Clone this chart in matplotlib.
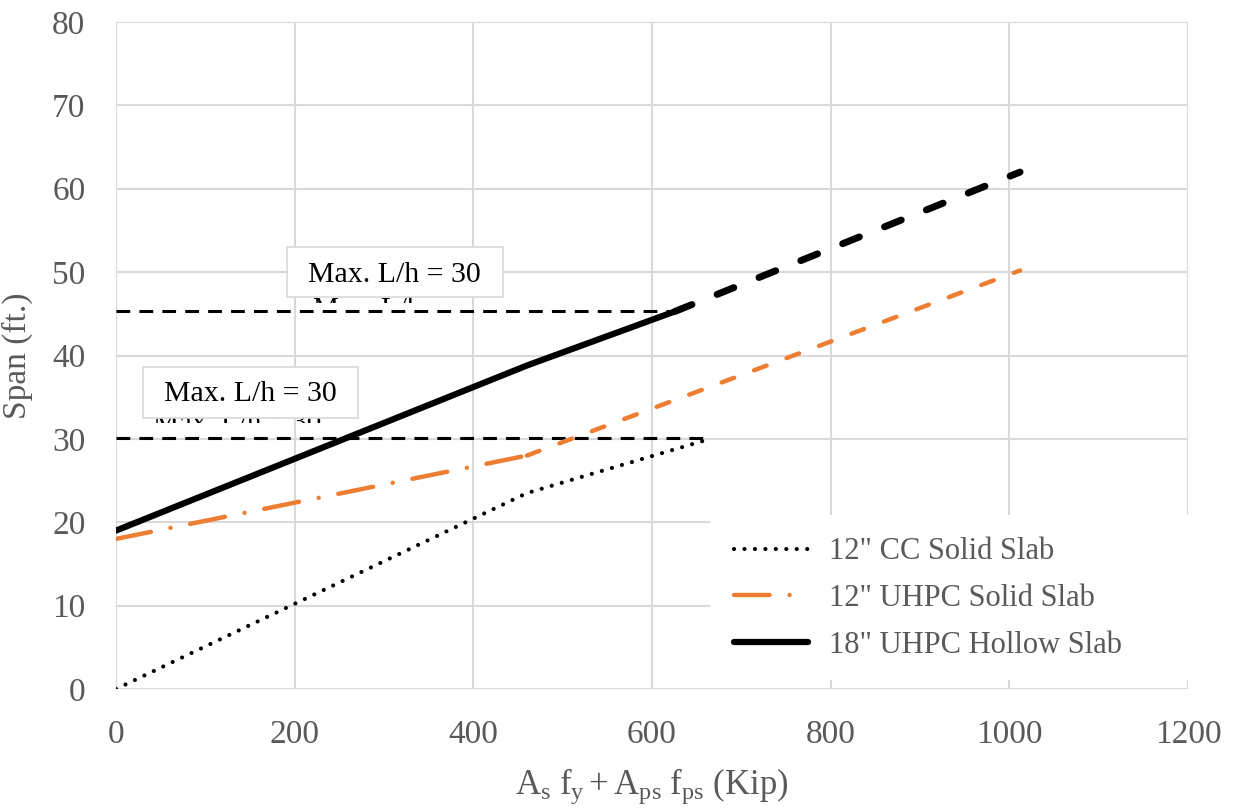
#Libraries
import numpy as np
import matplotlib
matplotlib.use('Agg')
import matplotlib.pyplot as plt
from matplotlib.patches import Rectangle
from matplotlib.transforms import Bbox, TransformedBbox

#Data
cc_x      = [0, 460, 665]
cc_y      = [0, 23.5, 30]
uhpc_x    = [0, 460]
uhpc_y    = [18, 28]
uhpc_ext_x = [460, 1012]
uhpc_ext_y = [28, 50.2]
hol_x     = [0, 460, 626]
hol_y     = [19, 38.8, 45.3]
hol_ext_x = [626, 1012]
hol_ext_y = [45.3, 62]
lim_hol   = 45.3     # Max. L/h = 30 for 18" slab
lim_hol_x = 622
lim_cc    = 30.1     # Max. L/h = 30 for 12" slab
lim_cc_x  = 665
labels = ['12" CC Solid Slab', '12" UHPC Solid Slab', '18" UHPC Hollow Slab']
note   = 'Max. L/h = 30'

#Style
plt.rcParams['font.family'] = ['Liberation Serif', 'DejaVu Serif']
plt.rcParams['mathtext.fontset'] = 'custom'
plt.rcParams['mathtext.rm'] = 'Liberation Serif'
plt.rcParams['mathtext.it'] = 'Liberation Serif:italic'
orange = '#ED7D31'
grey   = '#595959'
gridc  = '#D9D9D9'

fig = plt.figure(figsize=(12.39, 8.08), dpi=100)
ax = fig.add_axes([116/1239, 1-689/808, (1188-116)/1239, (689-22)/808])
ax.set_xlim(0, 1200)
ax.set_ylim(0, 80)
ax.set_xticks(np.arange(0, 1201, 200))
ax.set_yticks(np.arange(0, 81, 10))
ax.grid(True, color=gridc, linewidth=1.5, zorder=0)
ax.set_axisbelow(True)
for s in ax.spines.values():
    s.set_visible(False)
ax.tick_params(length=0, labelsize=24, labelcolor=grey)
ax.tick_params(axis='y', pad=22)
ax.tick_params(axis='x', pad=22)

#Limit lines
ax.plot([0, lim_hol_x], [lim_hol, lim_hol], color='black', lw=2.2,
        linestyle=(0, (4.5, 3)), zorder=2)
ax.plot([0, lim_cc_x], [lim_cc, lim_cc], color='black', lw=2.2,
        linestyle=(0, (4.5, 3)), zorder=2)

#Series
l1, = ax.plot(cc_x, cc_y, color='black', lw=3, linestyle=(0, (0.01, 2.5)),
              dash_capstyle='round', zorder=3)
l2, = ax.plot(uhpc_x, uhpc_y, color=orange, lw=3.2, linestyle=(0, (8, 4.5, 0.01, 4.5)),
              dash_capstyle='round', zorder=3)
ax.plot(uhpc_ext_x, uhpc_ext_y, color=orange, lw=3.2, linestyle=(0, (3, 4.8)),
        dash_capstyle='round', zorder=3)
l3, = ax.plot(hol_x, hol_y, color='black', lw=4.5, solid_capstyle='round', zorder=3)
ax.plot(hol_ext_x, hol_ext_y, color='black', lw=5, linestyle=(0, (2.6, 3.9)),
        dash_capstyle='round', zorder=3)

#Text boxes (with the half hidden label behind)
boxes = [(191, 47.0, 242, 6.0, 312, 49.7, 220, 44.6, 46.3, 'Max. L/h'),
         (30, 32.5, 241, 6.1, 150, 35.4, 41, 30.9, 31.9, note)]
for bx, by, bw, bh, tx, ty, hx, hy, clo, htxt in boxes:
    hid = ax.text(hx, hy, htxt, fontsize=21, color='black', va='baseline', zorder=4)
    hid.set_clip_box(TransformedBbox(Bbox([[0, clo], [1200, by]]), ax.transData))
    hid.set_clip_on(True)
    ax.add_patch(Rectangle((bx, by), bw, bh, facecolor='white', edgecolor=gridc,
                           lw=1.2, zorder=5))
    ax.text(tx, ty, note, fontsize=21.5, color='black', ha='center', va='center', zorder=6)

#Legend
ax.add_patch(Rectangle(((710-116)/1072, 9/667), (1188-710)/1072, 165/667,
                       transform=ax.transAxes, facecolor='white', edgecolor='none', zorder=1))
leg = ax.legend([l1, l2, l3], labels, loc='upper left',
                bbox_to_anchor=((710-116)/1072, (689-513)/667), frameon=False,
                fontsize=22, handlelength=2.4, handletextpad=0.7, labelspacing=0.58,
                borderpad=0.3)
for t in leg.get_texts():
    t.set_color(grey)

ax.set_ylabel('Span (ft.)', fontsize=24, color=grey, labelpad=14)
ax.set_xlabel(r'$\mathrm{A_s\ f_y + A_{ps}\ f_{ps}}$ (Kip)', fontsize=25, color=grey, labelpad=12)

plt.savefig('out.png', dpi=100)
